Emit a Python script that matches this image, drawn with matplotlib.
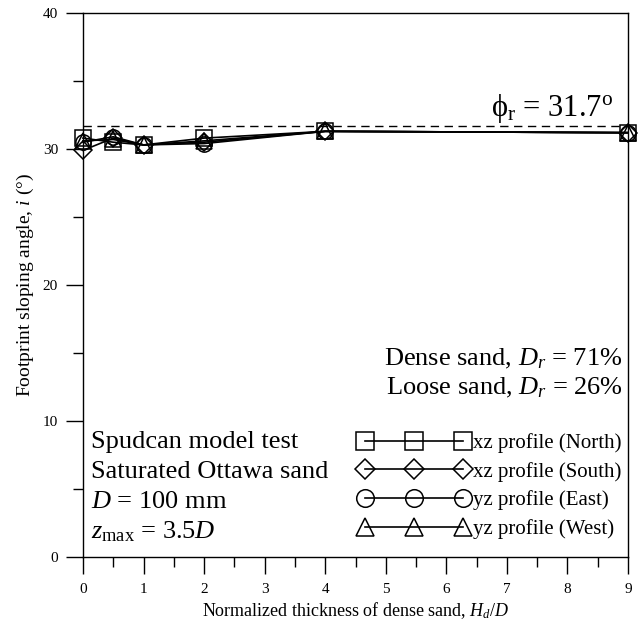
import matplotlib
matplotlib.use("Agg")
import matplotlib.pyplot as plt
from matplotlib.ticker import MultipleLocator

plt.rcParams['font.family'] = ['Liberation Serif', 'DejaVu Serif']
plt.rcParams['mathtext.fontset'] = 'custom'
plt.rcParams['mathtext.rm'] = 'Liberation Serif'
plt.rcParams['mathtext.it'] = 'Liberation Serif:italic'
plt.rcParams['mathtext.bf'] = 'Liberation Serif:bold'

# Data
hd_over_d = [0, 0.5, 1, 2, 4, 9]
north = [30.8, 30.5, 30.3, 30.8, 31.3, 31.2]
south = [29.9, 30.8, 30.3, 30.5, 31.3, 31.2]
east = [30.5, 30.9, 30.3, 30.4, 31.3, 31.2]
west = [30.6, 30.7, 30.3, 30.6, 31.3, 31.2]
series_labels = ["xz profile (North)", "xz profile (South)",
                 "yz profile (East)", "yz profile (West)"]
phi_r = 31.7

fig = plt.figure(figsize=(6.44, 6.28), dpi=100)
ax = fig.add_axes([83/644, 1 - 557/628, (628-83)/644, (557-13)/628])

markers = ['s', 'D', 'o', '^']
msizes = [11, 9, 11, 11]
for ys, m, ms, lab in zip([north, south, east, west], markers, msizes, series_labels):
    ax.plot(hd_over_d, ys, color='black', lw=1.2, marker=m, ms=ms,
            mfc='none', mec='black', mew=1.1, label=lab, clip_on=False)

ax.axhline(phi_r, color='black', lw=1.0, ls=(0, (6, 4)))

ax.set_xlim(0, 9)
ax.set_ylim(0, 40)
ax.xaxis.set_major_locator(MultipleLocator(1))
ax.xaxis.set_minor_locator(MultipleLocator(0.5))
ax.yaxis.set_major_locator(MultipleLocator(10))
ax.yaxis.set_minor_locator(MultipleLocator(5))
ax.tick_params(which='major', direction='out', length=12, width=1.0, labelsize=11, pad=7)
ax.tick_params(which='minor', direction='out', length=7, width=1.0)
ax.tick_params(axis='y', which='major', pad=6)
for s in ax.spines.values():
    s.set_linewidth(1.0)

ax.set_xlabel("Normalized thickness of dense sand, $H_d/D$", fontsize=13, labelpad=3)
ax.set_ylabel("Footprint sloping angle, $i$ (°)", fontsize=14, labelpad=5)

ax.text(0.972, 31.8, "ϕ$_\\mathrm{r}$ = 31.7$^\\mathrm{o}$", fontsize=22,
        ha='right', va='bottom', transform=ax.get_yaxis_transform())
ax.text(0.99, 14.6, "Dense sand, $D_r$ = 71%", fontsize=19, ha='right', va='center',
        transform=ax.get_yaxis_transform())
ax.text(0.99, 12.4, "Loose sand, $D_r$ = 26%", fontsize=19, ha='right', va='center',
        transform=ax.get_yaxis_transform())

left_lines = ["Spudcan model test", "Saturated Ottawa sand",
              "$D$ = 100 mm", "$z_\\mathrm{max}$ = 3.5$D$"]
for k, t in enumerate(left_lines):
    ax.text(0.015, 8.0 - k*2.2, t, fontsize=19, ha='left', va='baseline',
            transform=ax.get_yaxis_transform())

leg = ax.legend(loc='lower left', bbox_to_anchor=(0.49, 0.018), frameon=False,
                numpoints=3, handlelength=5.3, handletextpad=0.2, fontsize=15,
                labelspacing=0.42, borderaxespad=0, markerscale=1.15)

fig.savefig("out.png", dpi=100)
